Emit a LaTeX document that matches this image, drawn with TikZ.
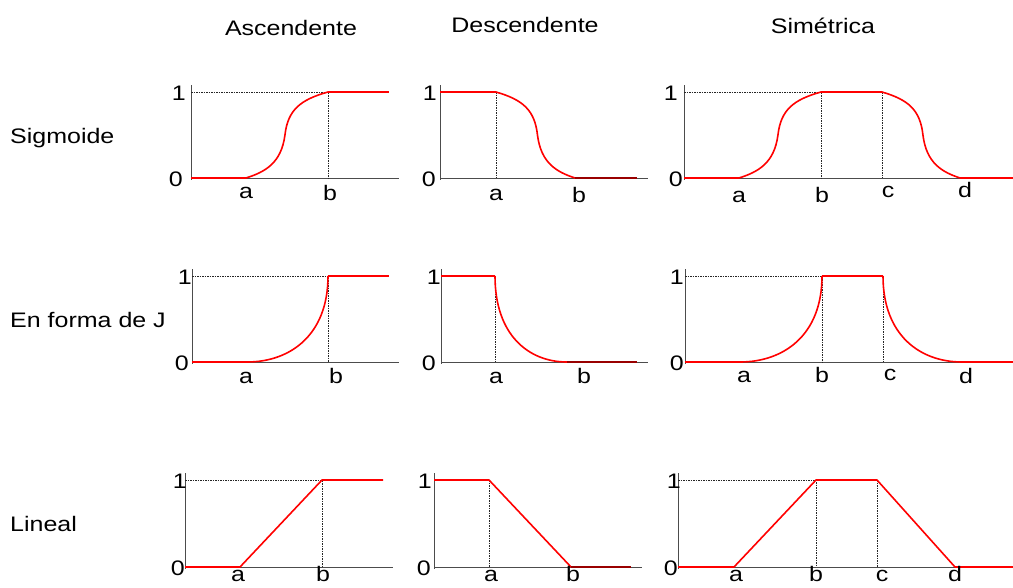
\documentclass[tikz,border=0pt]{standalone}
\usepackage{fontspec}
\setmainfont{Liberation Sans}[FakeStretch=1.19]
\usepackage{tikz}

\begin{document}
\begin{tikzpicture}[x=1pt, y=-1pt,
  eje/.style={draw=black!70, line width=0.9pt},
  guia/.style={draw=black!85, line width=0.6pt, dash pattern=on 1.5pt off 1pt},
  curva/.style={draw=red, line width=1.6pt, line join=round},
  curvafin/.style={draw=red!60!black, line width=1.6pt},
  txt/.style={font=\fontsize{21}{25}\selectfont, inner sep=0pt},
  % formas normalizadas (ancho 1, alto 1)
  sube/.pic={\draw[curva] (0,0) .. controls (0.23,-0.07) and (0.43,-0.17) .. (0.475,-0.5)
             .. controls (0.51,-0.79) and (0.66,-0.91) .. (1,-1);},
  baja/.pic={\draw[curva] (0,-1) .. controls (0.34,-0.91) and (0.49,-0.79) .. (0.525,-0.5)
             .. controls (0.57,-0.17) and (0.77,-0.07) .. (1,0);},
  jsube/.pic={\draw[curva] (0,0) .. controls (0.53,0) and (1,-0.31) .. (1,-1);},
  jbaja/.pic={\draw[curva] (0,-1) .. controls (0,-0.31) and (0.47,0) .. (1,0);},
]
  \useasboundingbox (0,0) rectangle (1013,587);

  % Encabezados de columna y fila
  \node[txt, anchor=base] (asc) at (291,35) {Ascendente};
  \node[txt, anchor=base] (desc) at (525,32) {Descendente};
  \node[txt, anchor=base] (sim) at (823,33) {Simétrica};
  \node[txt, anchor=base west] (sigm) at (10,143) {Sigmoide};
  \node[txt, anchor=base west] (jota) at (10,327) {En forma de J};
  \node[txt, anchor=base west] (lin) at (10,531) {Lineal};

  % ---- Sigmoide ----
  % ascendente
  \draw[eje] (191,85) -- (191,180) (191,178) -- (399,178);
  \draw[guia] (191,92) -- (328,92) -- (328,178);
  \draw[curva] (191,178) -- (246,178);
  \pic[xscale=82, yscale=86] at (246,178) {sube};
  \draw[curva] (328,92) -- (389,92);
  \node[txt, anchor=base east] (s1uno) at (186,100) {1};
  \node[txt, anchor=base east] (s1cero) at (183,186) {0};
  \node[txt, anchor=base] (s1a) at (246,198) {a};
  \node[txt, anchor=base] (s1b) at (330,200) {b};
  % descendente
  \draw[eje] (440,85) -- (440,180) (440,178) -- (648,178);
  \draw[guia] (496,92) -- (496,178);
  \draw[curva] (440,92) -- (496,92);
  \pic[xscale=79, yscale=86] at (496,178) {baja};
  \draw[curvafin] (575,178) -- (637,178);
  \node[txt, anchor=base east] (s2uno) at (437,100) {1};
  \node[txt, anchor=base east] (s2cero) at (436,186) {0};
  \node[txt, anchor=base] (s2a) at (496,200) {a};
  \node[txt, anchor=base] (s2b) at (579,202) {b};
  % simetrica
  \draw[eje] (684,85) -- (684,180) (684,178) -- (1013,178);
  \draw[guia] (684,92) -- (821,92) -- (821,178);
  \draw[guia] (882,92) -- (882,178);
  \draw[curva] (684,178) -- (739,178);
  \pic[xscale=82, yscale=86] at (739,178) {sube};
  \draw[curva] (821,92) -- (882,92);
  \pic[xscale=78, yscale=86] at (882,178) {baja};
  \draw[curva] (960,178) -- (1013,178);
  \node[txt, anchor=base east] (s3uno) at (678,100) {1};
  \node[txt, anchor=base east] (s3cero) at (683,186) {0};
  \node[txt, anchor=base] (s3a) at (739,202) {a};
  \node[txt, anchor=base] (s3b) at (822,202) {b};
  \node[txt, anchor=base] (s3c) at (888,197) {c};
  \node[txt, anchor=base] (s3d) at (965,197) {d};

  % ---- En forma de J ----
  % ascendente
  \draw[eje] (192,269) -- (192,364) (192,362) -- (399,362);
  \draw[guia] (192,276) -- (328,276) -- (328,362);
  \draw[curva] (192,362) -- (247,362);
  \pic[xscale=81, yscale=86] at (247,362) {jsube};
  \draw[curva] (328,276) -- (389,276);
  \node[txt, anchor=base east] (j1uno) at (192,284) {1};
  \node[txt, anchor=base east] (j1cero) at (189,370) {0};
  \node[txt, anchor=base] (j1a) at (246,383) {a};
  \node[txt, anchor=base] (j1b) at (336,383) {b};
  % descendente
  \draw[eje] (441,269) -- (441,364) (441,362) -- (648,362);
  \draw[guia] (495,276) -- (495,362);
  \draw[curva] (441,276) -- (495,276);
  \pic[xscale=72, yscale=86] at (495,362) {jbaja};
  \draw[curvafin] (567,362) -- (637,362);
  \node[txt, anchor=base east] (j2uno) at (441,284) {1};
  \node[txt, anchor=base east] (j2cero) at (436,370) {0};
  \node[txt, anchor=base] (j2a) at (496,383) {a};
  \node[txt, anchor=base] (j2b) at (584,383) {b};
  % simetrica
  \draw[eje] (685,269) -- (685,364) (685,362) -- (1013,362);
  \draw[guia] (685,276) -- (822,276) -- (822,362);
  \draw[guia] (883,276) -- (883,362);
  \draw[curva] (685,362) -- (740,362);
  \pic[xscale=82, yscale=86] at (740,362) {jsube};
  \draw[curva] (822,276) -- (883,276);
  \pic[xscale=79, yscale=86] at (883,362) {jbaja};
  \draw[curva] (962,362) -- (1013,362);
  \node[txt, anchor=base east] (j3uno) at (684,284) {1};
  \node[txt, anchor=base east] (j3cero) at (684,370) {0};
  \node[txt, anchor=base] (j3a) at (744,382) {a};
  \node[txt, anchor=base] (j3b) at (822,382) {b};
  \node[txt, anchor=base] (j3c) at (890,380) {c};
  \node[txt, anchor=base] (j3d) at (966,383) {d};

  % ---- Lineal ----
  % ascendente
  \draw[eje] (185,473) -- (185,569) (185,567) -- (393,567);
  \draw[guia] (185,480) -- (322,480) -- (322,567);
  \draw[curva] (185,567) -- (240,567) -- (322,480) -- (383,480);
  \node[txt, anchor=base east] (l1uno) at (187,488) {1};
  \node[txt, anchor=base east] (l1cero) at (185,575) {0};
  \node[txt, anchor=base] (l1a) at (238,581) {a};
  \node[txt, anchor=base] (l1b) at (323,581) {b};
  % descendente
  \draw[eje] (434,473) -- (434,569) (434,567) -- (642,567);
  \draw[guia] (489,480) -- (489,567);
  \draw[curva] (434,480) -- (489,480) -- (571,567);
  \draw[curvafin] (571,567) -- (631,567);
  \node[txt, anchor=base east] (l2uno) at (432,488) {1};
  \node[txt, anchor=base east] (l2cero) at (431,575) {0};
  \node[txt, anchor=base] (l2a) at (491,581) {a};
  \node[txt, anchor=base] (l2b) at (573,581) {b};
  % simetrica
  \draw[eje] (678,473) -- (678,569) (678,567) -- (1013,567);
  \draw[guia] (678,480) -- (816,480) -- (816,567);
  \draw[guia] (877,480) -- (877,567);
  \draw[curva] (678,567) -- (734,567) -- (816,480) -- (877,480) -- (955,567) -- (1013,567);
  \node[txt, anchor=base east] (l3uno) at (681,488) {1};
  \node[txt, anchor=base east] (l3cero) at (678,575) {0};
  \node[txt, anchor=base] (l3a) at (736,581) {a};
  \node[txt, anchor=base] (l3b) at (816,581) {b};
  \node[txt, anchor=base] (l3c) at (882,581) {c};
  \node[txt, anchor=base] (l3d) at (955,581) {d};
\end{tikzpicture}
\end{document}
